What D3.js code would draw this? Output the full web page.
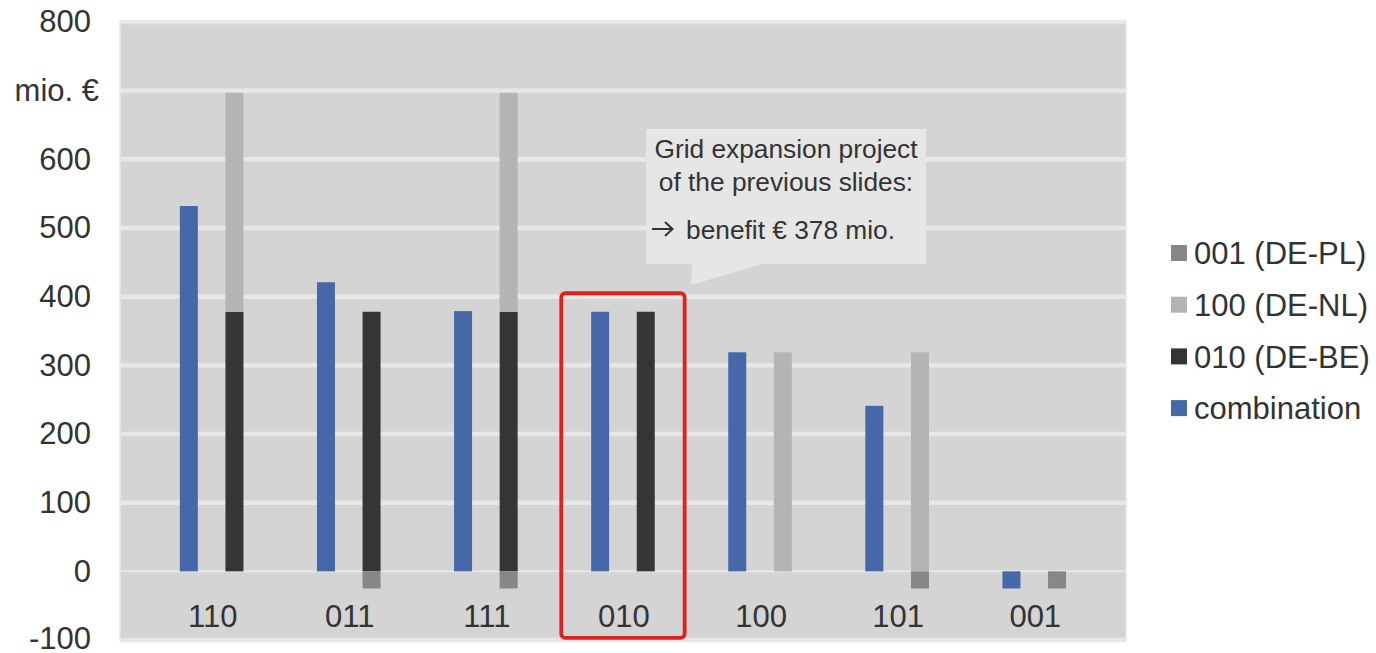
<!DOCTYPE html>
<html>
<head>
<meta charset="utf-8">
<script src="https://cdn.jsdelivr.net/npm/d3@7"></script>
<style>
  html, body { margin: 0; padding: 0; background: #ffffff; }
  svg { display: block; }
  text { font-family: "Liberation Sans", Arial, sans-serif; fill: #333333; }
</style>
</head>
<body>
<svg id="chart" width="1376" height="653"></svg>
<script>
// Benefit of grid expansion combinations (mio. €)
const categories = ["110", "011", "111", "010", "100", "101", "001"];
const combination = [532, 421, 379, 378, 319, 241, -25];
const deBe010 = [378, 378, 378, 378, 0, 0, 0];
const deNl100 = [319, 0, 319, 0, 319, 319, 0];
const dePl001 = [0, -25, -25, 0, 0, -25, -25];
const yTickValues = [-100, 0, 100, 200, 300, 400, 500, 600, 700, 800];
const yTickLabels = ["-100", "0", "100", "200", "300", "400", "500", "600", "mio. €", "800"];
const highlighted = "010";
const calloutLines = ["Grid expansion project", "of the previous slides:"];

const seriesKeys = ["010 (DE-BE)", "100 (DE-NL)", "001 (DE-PL)"];
const colors = {
  "combination": "#4668a9",
  "010 (DE-BE)": "#353535",
  "100 (DE-NL)": "#b4b4b4",
  "001 (DE-PL)": "#878787"
};

const svg = d3.select("#chart");
const plot = { left: 120, right: 1126, top: 22, bottom: 640 };

const y = d3.scaleLinear().domain([-100, 800]).range([plot.bottom, plot.top]);
const x = d3.scaleBand().domain(categories).range([143.1, 1102.8]).padding(0);
const xSub = d3.scaleBand().domain(["combination", "stack"]).range([-45.6, 45.6]);
const barW = 18;
const center = c => x(c) + x.bandwidth() / 2;

// plot area
svg.append("rect")
  .attr("x", plot.left).attr("y", plot.top)
  .attr("width", plot.right - plot.left).attr("height", plot.bottom - plot.top)
  .attr("fill", "#d4d4d4").attr("stroke", "#e6e6e6").attr("stroke-width", 1.5);

// gridlines
svg.append("g").selectAll("line").data(yTickValues).join("line")
  .attr("x1", plot.left).attr("x2", plot.right)
  .attr("y1", d => y(d)).attr("y2", d => y(d))
  .attr("stroke", "#e7e7e7")
  .attr("stroke-width", d => d === 0 ? 2 : 4.5);

// y axis labels
const yAxis = d3.axisLeft(y).tickValues(yTickValues)
  .tickFormat((d, i) => yTickLabels[i]).tickSize(0).tickPadding(0);
const yg = svg.append("g").attr("transform", "translate(91,0)").call(yAxis);
yg.select(".domain").remove();
yg.selectAll("text")
  .attr("font-size", 31).attr("font-family", "Liberation Sans, Arial, sans-serif")
  .attr("fill", "#333333")
  .attr("dx", (d) => d === 700 ? 8 : 0)
  .attr("dy", (d) => d === -100 ? "0.26em" : "0.32em");

// stacked single-project bars
const rows = categories.map((c, i) => ({
  cat: c,
  "010 (DE-BE)": deBe010[i],
  "100 (DE-NL)": deNl100[i],
  "001 (DE-PL)": dePl001[i]
}));
const stacked = d3.stack().keys(seriesKeys).offset(d3.stackOffsetDiverging)(rows);

svg.append("g").selectAll("g").data(stacked).join("g")
  .attr("fill", s => colors[s.key])
  .selectAll("rect").data(s => s.filter(d => d[1] !== d[0])).join("rect")
  .attr("x", d => center(d.data.cat) + xSub("stack") + xSub.bandwidth() / 2 - barW / 2)
  .attr("y", d => y(Math.max(d[0], d[1])))
  .attr("width", barW)
  .attr("height", d => Math.abs(y(d[0]) - y(d[1])));

// combination bars
svg.append("g").selectAll("rect").data(categories.map((c, i) => ({ cat: c, v: combination[i] }))).join("rect")
  .attr("x", d => center(d.cat) + xSub("combination") + xSub.bandwidth() / 2 - barW / 2)
  .attr("y", d => y(Math.max(0, d.v)))
  .attr("width", barW)
  .attr("height", d => Math.abs(y(d.v) - y(0)))
  .attr("fill", colors.combination);

// category labels
const xAxis = d3.axisBottom(x).tickSize(0).tickPadding(0);
const xg = svg.append("g").attr("transform", "translate(1,605)").call(xAxis);
xg.select(".domain").remove();
xg.selectAll("text")
  .attr("font-size", 31).attr("font-family", "Liberation Sans, Arial, sans-serif")
  .attr("fill", "#333333");

// highlight of the selected project
const hx = center(highlighted);
svg.append("rect")
  .attr("x", hx - x.step() * 0.45).attr("y", y(405))
  .attr("width", x.step() * 0.9).attr("height", y(-97) - y(405))
  .attr("rx", 4)
  .attr("fill", "none").attr("stroke", "#e2211b").attr("stroke-width", 3.8);

// callout
const benefit = combination[categories.indexOf(highlighted)];
const box = { x0: 646, y0: 129, x1: 926, y1: 264 };
svg.append("path")
  .attr("d", `M${box.x0},${box.y0}H${box.x1}V${box.y1}H762L691,285L692,${box.y1}H${box.x0}Z`)
  .attr("fill", "#e6e6e6");
const cx = (box.x0 + box.x1) / 2;
svg.append("g").selectAll("text").data(calloutLines).join("text")
  .attr("x", cx).attr("y", (d, i) => 158 + i * 32.5)
  .attr("text-anchor", "middle").attr("font-size", 26.3)
  .text(d => d);
// arrow symbol before the benefit line
svg.append("path")
  .attr("d", "M652,229H672M665,222L672.5,229L665,236")
  .attr("fill", "none").attr("stroke", "#333333").attr("stroke-width", 2)
  .attr("stroke-linejoin", "miter");
svg.append("text")
  .attr("x", 686).attr("y", 239).attr("font-size", 26.3)
  .text(`benefit € ${benefit} mio.`);

// legend
const legendItems = ["001 (DE-PL)", "100 (DE-NL)", "010 (DE-BE)", "combination"];
const lg = svg.append("g").selectAll("g").data(legendItems).join("g")
  .attr("transform", (d, i) => `translate(1171,${253 + i * 51.7})`);
lg.append("rect").attr("x", 0).attr("y", -8).attr("width", 16).attr("height", 16)
  .attr("fill", d => colors[d]);
lg.append("text").attr("x", 23).attr("dy", "0.36em").attr("font-size", 31).text(d => d);
</script>
</body>
</html>
